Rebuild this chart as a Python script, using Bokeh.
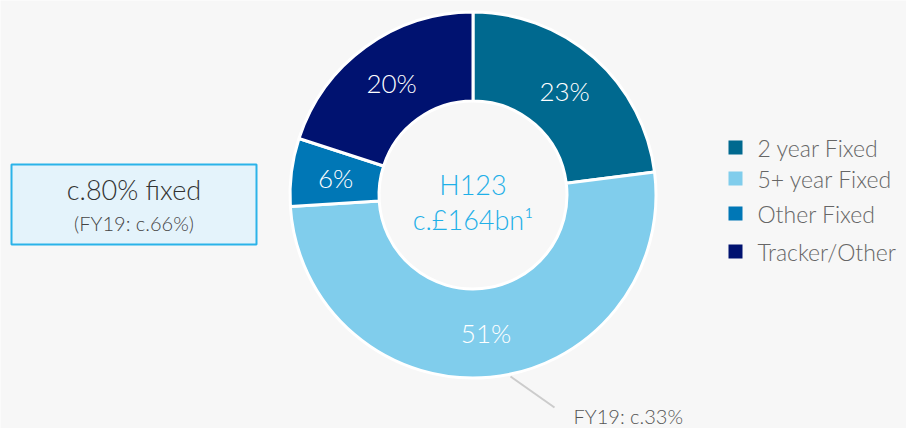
import math
from bokeh.plotting import figure
from bokeh.models import Range1d, ColumnDataSource
from bokeh.core.properties import value
from bokeh.embed import file_html
from bokeh.resources import INLINE

# ---- data ----
categories = ["2 year Fixed", "5+ year Fixed", "Other Fixed", "Tracker/Other"]
shares = [23, 51, 6, 20]
slice_labels = ["23%", "51%", "6%", "20%"]
center_lines = ["H123", "c.£164bn¹"]
box_lines = ["c.80% fixed", "(FY19: c.66%)"]
callout_text = "FY19: c.33%"

palette = ["#00698f", "#80cdec", "#0077b6", "#001270"]

W, H = 906, 428
BG = "#f7f7f7"
FONT = "Lato Light"

def X(px):
    return px

def Y(py):
    return H - py

p = figure(width=W, height=H, output_backend="svg", toolbar_location=None,
           x_range=Range1d(0, W), y_range=Range1d(0, H), min_border=0,
           background_fill_color=BG, border_fill_color=BG)
p.axis.visible = False
p.grid.visible = False
p.outline_line_color = None

# ---- donut ----
cx, cy = X(472.5), Y(194.5)
r_out, r_in = 183, 94
total = sum(shares)
starts, ends, mids = [], [], []
cum = 0
for s in shares:
    a0 = math.pi / 2 - 2 * math.pi * cum / total
    cum += s
    a1 = math.pi / 2 - 2 * math.pi * cum / total
    starts.append(a0)
    ends.append(a1)
    mids.append((a0 + a1) / 2)

src = ColumnDataSource(dict(x=[cx] * len(shares), y=[cy] * len(shares),
                            start=starts, end=ends, color=palette))
p.annular_wedge(x="x", y="y", inner_radius=r_in, outer_radius=r_out,
                start_angle="start", end_angle="end", direction="clock",
                fill_color="color", line_color="white", line_width=3, source=src)

r_lab = (r_in + r_out) / 2
p.text(x=[cx + r_lab * math.cos(m) for m in mids],
       y=[cy + r_lab * math.sin(m) for m in mids],
       text=slice_labels, text_color="white", text_font=value(FONT),
       text_font_size="26px", text_align="center", text_baseline="middle")

# centre text
p.text(x=[cx, cx], y=[Y(184), Y(219)], text=center_lines, text_color="#1fb0e8",
       text_font=value(FONT), text_font_size="27px", text_align="center",
       text_baseline="middle")

# ---- left box ----
p.quad(left=[X(11)], right=[X(256)], top=[Y(164)], bottom=[Y(244)],
       fill_color="#e4f3fb", line_color="#2bb3e9", line_width=2)
p.text(x=[X(133.5)], y=[Y(189)], text=[box_lines[0]], text_color="#333333",
       text_font=value(FONT), text_font_size="27px", text_align="center",
       text_baseline="middle")
p.text(x=[X(133.5)], y=[Y(222)], text=[box_lines[1]], text_color="#444444",
       text_font=value(FONT), text_font_size="20px", text_align="center",
       text_baseline="middle")

# ---- callout ----
p.line(x=[X(510), X(554)], y=[Y(376), Y(407)], line_color="#cccccc", line_width=2)
p.text(x=[X(573)], y=[Y(427)], text=[callout_text], text_color="#555555",
       text_font=value(FONT), text_font_size="20px", text_align="left",
       text_baseline="bottom")

# ---- legend ----
leg_y = [Y(147), Y(178), Y(213), Y(251)]
p.scatter(x=[X(735)] * len(categories), y=leg_y, marker="square", size=14,
          fill_color=palette, line_color=None)
p.text(x=[X(757)] * len(categories), y=leg_y, text=categories, text_color="#666666",
       text_font=value(FONT), text_font_size="23px", text_align="left",
       text_baseline="middle")

open("out.html", "w").write(file_html(p, INLINE))
